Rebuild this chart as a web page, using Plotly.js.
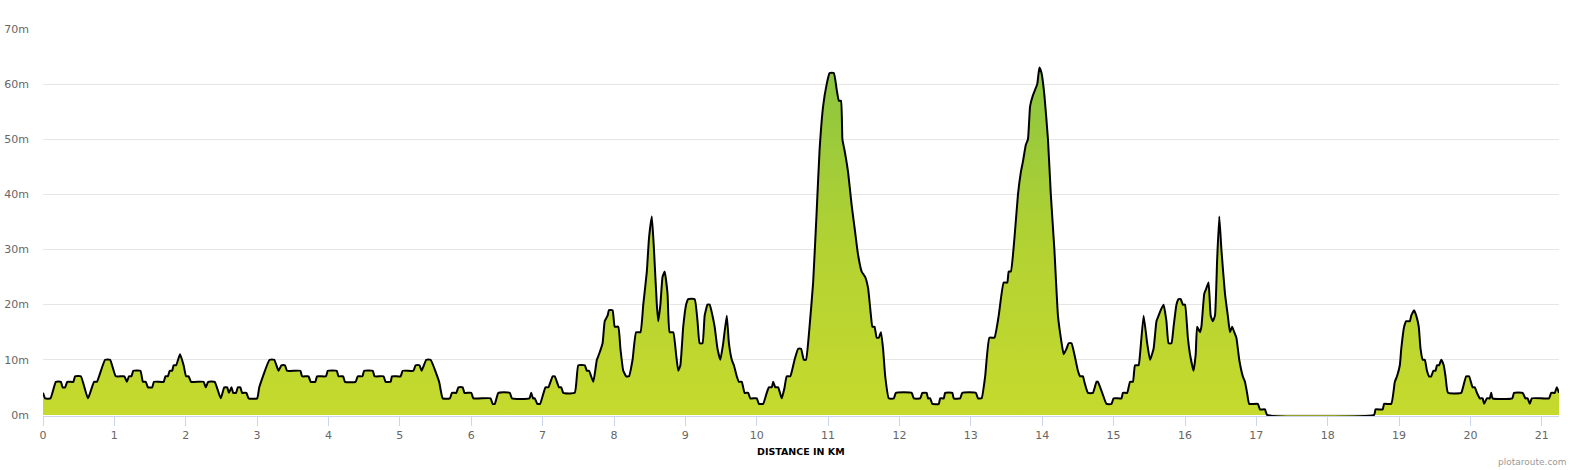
<!DOCTYPE html>
<html>
<head>
<meta charset="utf-8">
<script src="https://cdn.plot.ly/plotly-3.0.1.min.js"></script>
<style>
    html, body { margin: 0; padding: 0; background: #fff; }
    #plot { width: 1580px; height: 470px; }
</style>
</head>
<body>
<div id="plot"></div>
<script>

// Distance along the route (km) and elevation (m)
const distance_km = [
    0, 0.03, 0.105, 0.18, 0.25, 0.275, 0.31, 0.34, 0.425, 0.45, 0.53, 0.63, 0.715, 0.755, 0.87, 0.94,
    1.02, 1.14, 1.175, 1.205, 1.24, 1.265, 1.365, 1.40, 1.44, 1.47, 1.53, 1.555, 1.69, 1.715, 1.75, 1.775,
    1.81, 1.83, 1.865, 1.92, 1.97, 2.005, 2.04, 2.075, 2.25, 2.28, 2.315, 2.405, 2.49, 2.54, 2.58, 2.605,
    2.64, 2.665, 2.705, 2.73, 2.765, 2.79, 2.85, 2.88, 3.0, 3.03, 3.175, 3.24, 3.30, 3.34, 3.39, 3.42,
    3.605, 3.63, 3.72, 3.75, 3.815, 3.84, 3.965, 3.99, 4.115, 4.14, 4.205, 4.23, 4.38, 4.41, 4.475, 4.50,
    4.62, 4.645, 4.77, 4.80, 4.87, 4.89, 5.01, 5.04, 5.19, 5.22, 5.275, 5.305, 5.37, 5.43, 5.55, 5.60,
    5.70, 5.73, 5.79, 5.82, 5.88, 5.905, 6.0, 6.03, 6.27, 6.30, 6.33, 6.38, 6.54, 6.57, 6.815, 6.84,
    6.865, 6.89, 6.925, 6.965, 7.04, 7.08, 7.14, 7.17, 7.23, 7.26, 7.29, 7.45, 7.50, 7.59, 7.62, 7.65,
    7.71, 7.76, 7.79, 7.84, 7.87, 7.91, 7.93, 7.98, 8.01, 8.06, 8.09, 8.13, 8.17, 8.21, 8.26, 8.31,
    8.37, 8.41, 8.46, 8.49, 8.53, 8.56, 8.60, 8.62, 8.65, 8.68, 8.71, 8.75, 8.78, 8.83, 8.87, 8.90,
    8.93, 8.97, 9.01, 9.04, 9.13, 9.17, 9.20, 9.24, 9.27, 9.31, 9.34, 9.38, 9.41, 9.45, 9.49, 9.53,
    9.58, 9.61, 9.65, 9.68, 9.72, 9.75, 9.79, 9.83, 9.88, 9.91, 10.0, 10.03, 10.09, 10.14, 10.17, 10.21,
    10.23, 10.26, 10.30, 10.35, 10.39, 10.42, 10.47, 10.53, 10.58, 10.62, 10.66, 10.69, 10.74, 10.79, 10.84, 10.88,
    10.93, 10.98, 11.02, 11.08, 11.12, 11.15, 11.18, 11.20, 11.23, 11.28, 11.33, 11.38, 11.42, 11.47, 11.52, 11.56,
    11.60, 11.62, 11.65, 11.68, 11.71, 11.74, 11.77, 11.80, 11.85, 11.92, 11.95, 12.17, 12.20, 12.29, 12.32, 12.38,
    12.40, 12.43, 12.46, 12.55, 12.57, 12.62, 12.64, 12.74, 12.76, 12.85, 12.88, 13.07, 13.10, 13.15, 13.20, 13.26,
    13.33, 13.39, 13.46, 13.51, 13.53, 13.56, 13.61, 13.66, 13.70, 13.73, 13.77, 13.80, 13.83, 13.87, 13.90, 13.93,
    13.96, 13.99, 14.03, 14.08, 14.12, 14.17, 14.22, 14.26, 14.30, 14.34, 14.37, 14.41, 14.45, 14.50, 14.53, 14.57,
    14.59, 14.64, 14.71, 14.76, 14.78, 14.84, 14.90, 14.97, 15.0, 15.11, 15.13, 15.19, 15.23, 15.27, 15.30, 15.35,
    15.37, 15.42, 15.47, 15.51, 15.56, 15.60, 15.63, 15.66, 15.70, 15.74, 15.77, 15.81, 15.84, 15.88, 15.91, 15.94,
    15.97, 16.0, 16.04, 16.07, 16.12, 16.15, 16.17, 16.21, 16.23, 16.27, 16.30, 16.33, 16.36, 16.39, 16.42, 16.45,
    16.48, 16.51, 16.56, 16.60, 16.63, 16.66, 16.69, 16.72, 16.76, 16.81, 16.84, 16.87, 16.90, 17.02, 17.05, 17.12,
    17.15, 18.65, 18.67, 18.77, 18.79, 18.89, 18.94, 18.97, 19.01, 19.03, 19.07, 19.10, 19.15, 19.17, 19.21, 19.24,
    19.275, 19.30, 19.33, 19.36, 19.39, 19.42, 19.45, 19.48, 19.51, 19.53, 19.56, 19.59, 19.625, 19.65, 19.685, 19.87,
    19.895, 19.94, 19.98, 20.03, 20.06, 20.09, 20.13, 20.17, 20.19, 20.23, 20.27, 20.29, 20.31, 20.585, 20.61, 20.73,
    20.77, 20.80, 20.83, 20.86, 21.10, 21.13, 21.18, 21.21, 21.24
]

const elevation_m = [
    4, 3, 3, 6, 6, 5, 5, 6, 6, 7, 7, 3, 6, 6, 10, 10,
    7, 7, 6, 7, 7, 8, 8, 6, 6, 5, 5, 6, 6, 7, 7, 8,
    8, 9, 9, 11, 9, 7, 7, 6, 6, 5, 6, 6, 3, 5, 5, 4,
    5, 4, 4, 5, 5, 4, 4, 3, 3, 5, 10, 10, 8, 9, 9, 8,
    8, 7, 7, 6, 6, 7, 7, 8, 8, 7, 7, 6, 6, 7, 7, 8,
    8, 7, 7, 6, 6, 7, 7, 8, 8, 9, 9, 8, 10, 10, 6, 3,
    3, 4, 4, 5, 5, 4, 4, 3, 3, 2, 2, 4, 4, 3, 3, 4,
    3, 3, 2, 2, 5, 5, 7, 7, 5, 5, 4, 4, 9, 9, 8, 8,
    6, 10, 11, 13, 17, 18, 19, 19, 16, 16, 12, 8, 7, 7, 10, 15,
    15, 20, 26, 32, 36, 30, 20, 17, 20, 25, 26, 22, 15, 15, 11, 8,
    9, 16, 20, 21, 21, 17, 13, 13, 18, 20, 20, 18, 16, 12, 10, 13,
    18, 13, 10, 9, 7, 6, 6, 4, 4, 3, 3, 2, 2, 4, 5, 5,
    6, 5, 5, 3, 5, 7, 7, 10, 12, 12, 10, 10, 16, 24, 37, 48,
    56, 60, 62, 62, 59, 57, 57, 50, 48, 44, 38, 33, 29, 26, 25, 23,
    18, 16, 16, 14, 14, 15, 12, 7, 3, 3, 4, 4, 3, 3, 4, 4,
    3, 3, 2, 2, 3, 3, 4, 4, 3, 3, 4, 4, 3, 3, 7, 14,
    14, 18, 24, 24, 26, 26, 32, 40, 44, 46, 49, 50, 56, 58, 59, 60,
    63, 62, 58, 50, 40, 30, 18, 14, 11, 12, 13, 13, 11, 8, 7, 7,
    6, 4, 4, 6, 6, 4, 2, 2, 3, 3, 4, 4, 6, 6, 9, 9,
    11, 18, 13, 10, 12, 17, 18, 19, 20, 17, 13, 13, 16, 20, 21, 21,
    20, 20, 14, 11, 8, 11, 16, 15, 16, 22, 23, 24, 18, 17, 18, 28,
    36, 30, 22, 18, 15, 16, 15, 14, 10, 7, 6, 4, 2, 2, 1, 1,
    0, 0, 1, 1, 2, 2, 6, 7, 9, 12, 16, 17, 17, 18, 19, 18,
    16, 12, 10, 10, 8, 7, 7, 8, 8, 9, 9, 10, 9, 7, 4, 4,
    5, 7, 7, 5, 5, 4, 3, 3, 2, 3, 3, 4, 3, 3, 4, 4,
    3, 3, 2, 3, 3, 4, 4, 5, 4
]

const x_ticks = [0, 1, 2, 3, 4, 5, 6, 7, 8, 9, 10, 11, 12, 13, 14, 15, 16, 17, 18, 19, 20, 21]
const y_ticks = [0, 10, 20, 30, 40, 50, 60, 70]

const label_font = { family: "DejaVu Sans, Verdana, sans-serif", size: 11, color: "#666666" }

let profile_plot = {}
function draw() {

    profile_plot.data = [{
        type: "scatter",
        mode: "lines",
        x: distance_km,
        y: elevation_m,
        fill: "tozeroy",
        fillgradient: { type: "vertical", colorscale: [[0, "#c6da2d"], [0.5, "#b2d233"], [1, "#8bc540"]] },
        line: { color: "#000000", width: 2, shape: "spline", smoothing: 0.4 },
        hoverinfo: "none",
        showlegend: false
    }]

    profile_plot.layout = {
        width: 1580,
        height: 470,
        // keep the plot area fixed, the annotations below must not push it
        margin: { l: 43, r: 21, t: 29, b: 54, autoexpand: false },
        paper_bgcolor: "#ffffff",
        plot_bgcolor: "#ffffff",
        font: label_font,
        xaxis: {
            range: [0, 21.24],
            tickvals: x_ticks,
            ticktext: x_ticks.map(String),
            ticks: "outside", ticklen: 9, tickwidth: 1, tickcolor: "#ccd6eb",
            showline: true, linecolor: "#ccd6eb", linewidth: 1,
            showgrid: false, zeroline: false,
            layer: "below traces",
            automargin: false,
            tickfont: label_font,
            fixedrange: true
        },
        yaxis: {
            // a hair below 0 so the profile line lying on 0 is not clipped away
            range: [-0.2, 70],
            tickvals: y_ticks,
            ticktext: y_ticks.map(v => v + "m"),
            showgrid: true, gridcolor: "#e6e6e6", gridwidth: 1,
            zeroline: false, showline: false,
            layer: "below traces",
            automargin: false,
            ticklabelstandoff: 13,
            tickfont: label_font,
            fixedrange: true
        },
        annotations: [
            { xref: "paper", yref: "paper", x: 0.5, y: -0.093, xanchor: "center", yanchor: "middle", showarrow: false,
              text: "DISTANCE IN KM", font: { family: "DejaVu Sans, Verdana, sans-serif", size: 9.5, color: "#000000", weight: "bold" } },
            { xref: "paper", yref: "paper", x: 1.0066, y: -0.119, xanchor: "right", yanchor: "middle", showarrow: false,
              text: "plotaroute.com", font: { family: "DejaVu Sans, Verdana, sans-serif", size: 9, color: "#999999" } }
        ]
    }

    let plot = document.getElementById("plot")
    Plotly.purge(plot)
    Plotly.newPlot(plot, profile_plot.data, profile_plot.layout, { displayModeBar: false, staticPlot: true })
}

draw()
</script>
</body>
</html>
